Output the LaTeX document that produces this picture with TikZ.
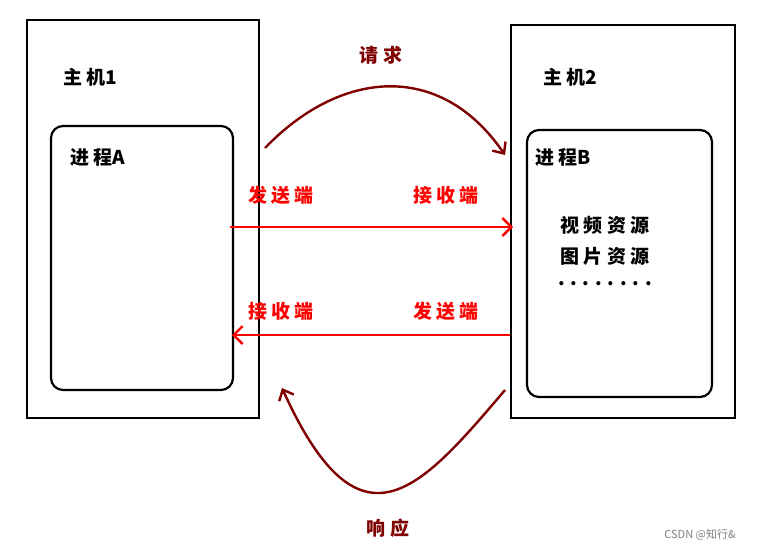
\documentclass[tikz,border=0pt]{standalone}
\usepackage{fontspec}
\newfontfamily\cjk{Noto Sans CJK SC}
\usetikzlibrary{arrows.meta}
\definecolor{darkred}{RGB}{128,0,0}
\begin{document}
\begin{tikzpicture}[x=1pt,y=-1pt,
  host/.style={draw,line width=2.6pt},
  proc/.style={draw,line width=2.2pt,rounded corners=12pt},
  lbl/.style={font=\cjk\bfseries\fontsize{19}{22}\selectfont},
  red lbl/.style={lbl,text=red},
  msg/.style={red,line width=2.4pt,-{Straight Barb[length=9pt,width=18pt]}},
  flow/.style={darkred,line width=2.4pt,-{Straight Barb[length=9pt,width=16pt]}}]
  \useasboundingbox[fill=white] (0,0) rectangle (762,552);

  % hosts and processes
  \draw[host] (27,20) rectangle (259,418);
  \draw[proc] (51,126) rectangle (233,390);
  \draw[host] (511,25) rectangle (735,418);
  \draw[proc] (527,130) rectangle (712,397);

  \node[lbl] (host1) at (90,77) {主 机1};
  \node[lbl] (procA) at (98,157) {进 程A};
  \node[lbl] (host2) at (570,77) {主 机2};
  \node[lbl] (procB) at (563,157) {进 程B};
  \node[lbl] (video) at (605,225) {视 频 资 源};
  \node[lbl] (image) at (605,256) {图 片 资 源};
  \node[lbl] (dots) at (605,284) {. . . . . . . .};

  % request / response
  \coordinate (reqS) at (265,148);
  \coordinate (reqE) at (505,155);
  \draw[flow] (reqS) .. controls (340,70) and (440,60) .. (reqE);
  \node[lbl,text=darkred] (req) at (381,55) {请 求};
  \coordinate (resS) at (505,390);
  \coordinate (resE) at (282,388);
  \draw[flow] (resS) .. controls (420,490) and (360,560) .. (resE);
  \node[lbl,text=darkred] (res) at (388,528) {响 应};

  % data transfer
  \coordinate (sendA) at (230,227);
  \coordinate (recvB) at (513,227);
  \draw[msg] (sendA) -- (recvB);
  \node[red lbl] (sA) at (281,195) {发 送 端};
  \node[red lbl] (rB) at (446,195) {接 收 端};
  \coordinate (sendB) at (510,335);
  \coordinate (recvA) at (232,335);
  \draw[msg] (sendB) -- (recvA);
  \node[red lbl] (rA) at (281,311) {接 收 端};
  \node[red lbl] (sB) at (446,311) {发 送 端};

  \node[font=\cjk\fontsize{11}{13}\selectfont,text=gray] (mark) at (700,535) {CSDN @知行\&};
\end{tikzpicture}
\end{document}
